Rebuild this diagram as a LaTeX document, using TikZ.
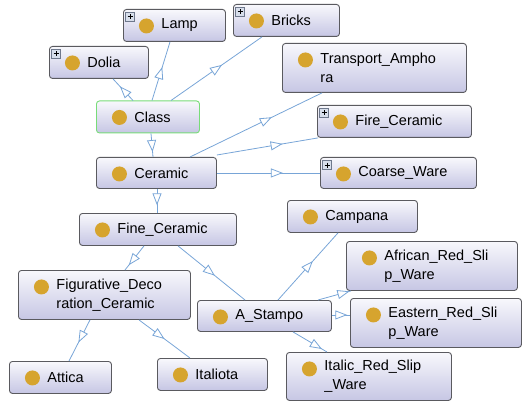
\documentclass[tikz,border=0pt]{standalone}
\usepackage{fontspec}
\setmainfont{Liberation Sans}
\usetikzlibrary{arrows.meta,decorations.markings}
\definecolor{edgecol}{RGB}{120,165,215}
\definecolor{boxtop}{RGB}{248,248,252}
\definecolor{boxbot}{RGB}{198,198,228}
\definecolor{boxline}{RGB}{90,90,95}
\definecolor{clsgold}{RGB}{214,164,46}
\definecolor{selgreen}{RGB}{120,220,120}
\definecolor{plusfill}{RGB}{215,222,235}
\definecolor{plusline}{RGB}{110,120,140}
\newcommand\clstext[1]{\leftskip=38pt\relax #1\par}
\begin{document}
\begin{tikzpicture}[x=1pt,y=-1pt,
  cls/.style={draw=boxline, line width=0.9pt, rounded corners=3pt,
    top color=boxtop, bottom color=boxbot, anchor=north west,
    inner sep=0pt, align=left, text width=#1,
    font=\fontsize{14.5}{19}\selectfont,
    path picture={\fill[clsgold] ([shift={(23,16.5)}]path picture bounding box.north west) circle (7.5pt);}},
  selcls/.style={cls=#1, draw=selgreen},
  isa/.style={draw=edgecol, line width=0.8pt, postaction={decorate},
    decoration={markings, mark=at position #1 with {\arrow{Triangle[length=12pt,width=9pt,fill=white,line width=0.8pt]}}}},
  plusbox/.style={draw=plusline, fill=plusfill, line width=0.6pt},
  plussign/.style={draw=black, line width=1pt}
]
\useasboundingbox (0,0) rectangle (522,401);

% nodes
\node[cls=102pt, minimum height=32pt] (lamp) at (123,9) {\clstext{Lamp}};
\node[cls=106pt, minimum height=32pt] (bricks) at (233,4) {\clstext{Bricks}};
\node[cls=99pt, minimum height=32pt] (dolia) at (49,46) {\clstext{Dolia}};
\node[selcls=103pt, minimum height=32pt] (class) at (96,100.5) {\clstext{Class}};
\node[cls=120pt, minimum height=31pt] (ceramic) at (96,157) {\clstext{Ceramic}};
\node[cls=184pt, minimum height=49pt] (transport) at (282,43) {\clstext{Transport\_Ampho\\ra}};
\node[cls=154pt, minimum height=32pt] (fire) at (317,105) {\clstext{Fire\_Ceramic}};
\node[cls=156pt, minimum height=31pt] (coarse) at (320,157) {\clstext{Coarse\_Ware}};
\node[cls=157pt, minimum height=32pt] (fine) at (79,213) {\clstext{Fine\_Ceramic}};
\node[cls=172pt, minimum height=49pt] (figurative) at (18,270) {\clstext{Figurative\_Deco\\ration\_Ceramic}};
\node[cls=134pt, minimum height=31pt] (astampo) at (197,300) {\clstext{A\_Stampo}};
\node[cls=102pt, minimum height=32pt] (attica) at (9,361) {\clstext{Attica}};
\node[cls=110pt, minimum height=32pt] (italiota) at (157,358) {\clstext{Italiota}};
\node[cls=130pt, minimum height=32pt] (campana) at (287,200) {\clstext{Campana}};
\node[cls=171pt, minimum height=49pt] (african) at (346,241) {\clstext{African\_Red\_Sli\\p\_Ware}};
\node[cls=171pt, minimum height=49pt] (eastern) at (350,298) {\clstext{Eastern\_Red\_Sli\\p\_Ware}};
\node[cls=165pt, minimum height=48pt] (italic) at (286,352) {\clstext{Italic\_Red\_Slip\\\_Ware}};

% expand icons
\foreach \n in {lamp,bricks,dolia,fire,coarse}{
  \draw[plusbox] ([shift={(2.5,3.5)}]\n.north west) rectangle ([shift={(11.5,12.5)}]\n.north west);
  \draw[plussign] ([shift={(4.5,8)}]\n.north west) -- ([shift={(9.5,8)}]\n.north west)
                  ([shift={(7,5.5)}]\n.north west) -- ([shift={(7,10.5)}]\n.north west);
}

% subclass connectors
\draw[isa=0.65] ([xshift=37pt]class.north west) -- ([xshift=64pt]dolia.south west);
\draw[isa=0.57] ([xshift=56pt]class.north west) -- ([xshift=47pt]lamp.south west);
\draw[isa=0.56] ([xshift=75pt]class.north west) -- ([xshift=29pt]bricks.south west);
\draw[isa=0.79] ([xshift=55pt]class.south west) -- ([xshift=57pt]ceramic.north west);
\draw[isa=0.62] ([xshift=94pt]ceramic.north west) -- ([xshift=40pt]transport.south west);
\draw[isa=0.65] ([yshift=2pt]ceramic.north east) -- ([xshift=1pt]fire.south west);
\draw[isa=0.64] (ceramic.east) -- (coarse.west);
\draw[isa=0.68] ([xshift=61pt]ceramic.south west) -- ([xshift=78pt]fine.north west);
\draw[isa=0.8] ([xshift=65pt]fine.south west) -- ([xshift=107pt]figurative.north west);
\draw[isa=0.55] ([xshift=99pt]fine.south west) -- ([xshift=48pt]astampo.north west);
\draw[isa=0.55] ([xshift=72pt]figurative.south west) -- ([xshift=60pt]attica.north west);
\draw[isa=0.5] ([xshift=121pt]figurative.south west) -- ([xshift=33pt]italiota.north west);
\draw[isa=0.58] ([xshift=81pt]astampo.north west) -- ([xshift=51pt]campana.south west);
\draw[isa=0.95] ([xshift=121pt]astampo.north west) -- ([xshift=5pt]african.south west);
\draw[isa=0.85] ([yshift=1pt]astampo.east) -- ([yshift=1pt]astampo.east -| eastern.west);
\draw[isa=0.85] ([xshift=96pt]astampo.south west) -- ([xshift=41pt]italic.north west);
\end{tikzpicture}
\end{document}
